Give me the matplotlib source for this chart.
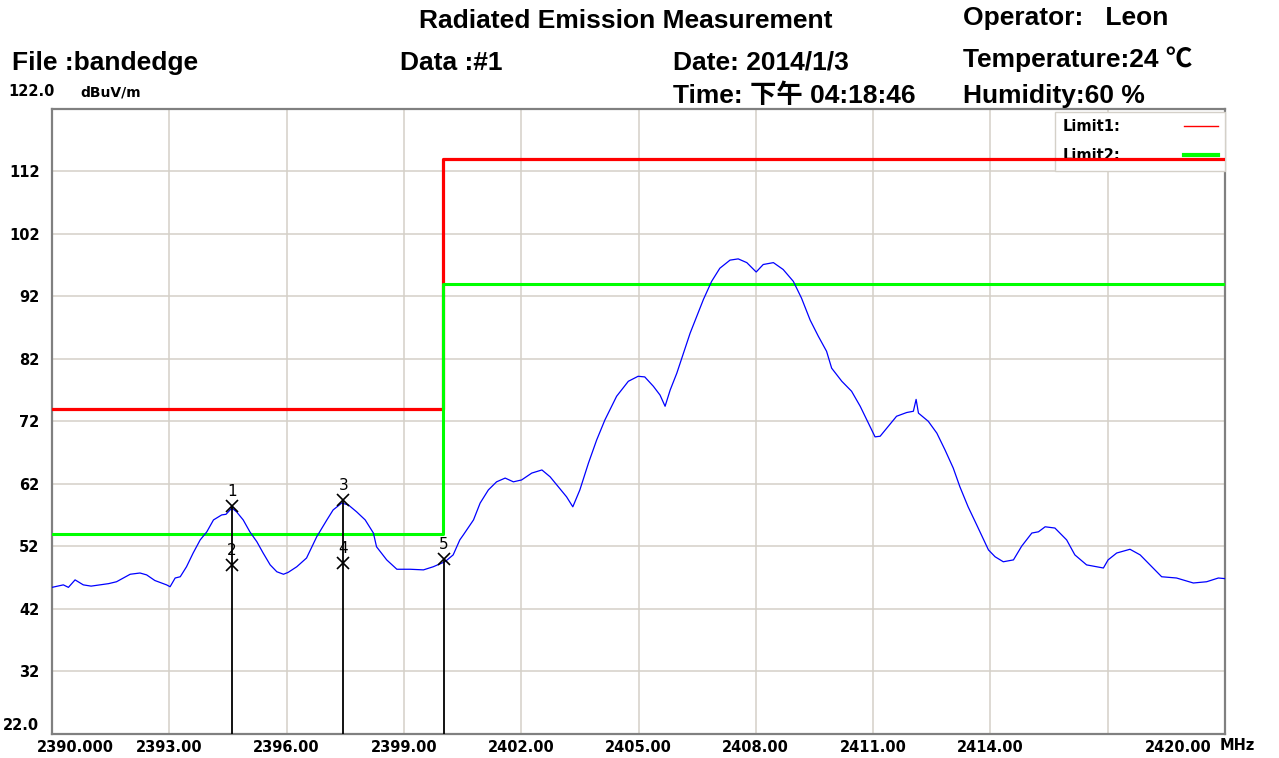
import matplotlib
matplotlib.use('Agg')
import matplotlib.pyplot as plt
import matplotlib.transforms as mtransforms

# trace (MHz, dBuV/m)
freq = [2390.00, 2390.29, 2390.42, 2390.59, 2390.80, 2391.00, 2391.23, 2391.45, 2391.65, 2392.00,
        2392.25, 2392.42, 2392.63, 2392.93, 2393.02, 2393.15, 2393.28, 2393.44, 2393.61, 2393.79,
        2393.96, 2394.13, 2394.34, 2394.45, 2394.60, 2394.72, 2394.89, 2395.06, 2395.24, 2395.40,
        2395.58, 2395.75, 2395.92, 2396.04, 2396.26, 2396.51, 2396.77, 2397.03, 2397.19, 2397.41,
        2397.58, 2397.79, 2398.01, 2398.22, 2398.30, 2398.56, 2398.82, 2399.16, 2399.50, 2399.75,
        2400.05, 2400.26, 2400.43, 2400.52, 2400.78, 2400.95, 2401.16, 2401.37, 2401.59, 2401.80,
        2402.01, 2402.27, 2402.53, 2402.74, 2402.95, 2403.16, 2403.32, 2403.50, 2403.72, 2403.93,
        2404.14, 2404.44, 2404.74, 2404.99, 2405.16, 2405.38, 2405.55, 2405.68, 2405.81, 2405.98,
        2406.15, 2406.32, 2406.49, 2406.66, 2406.87, 2407.08, 2407.34, 2407.55, 2407.77, 2408.01,
        2408.19, 2408.45, 2408.70, 2408.96, 2409.17, 2409.39, 2409.60, 2409.81, 2409.94, 2410.20,
        2410.45, 2410.67, 2410.88, 2411.05, 2411.18, 2411.35, 2411.60, 2411.86, 2412.03, 2412.10,
        2412.16, 2412.41, 2412.63, 2412.84, 2413.05, 2413.22, 2413.43, 2413.65, 2413.95, 2414.12,
        2414.33, 2414.59, 2414.80, 2415.06, 2415.23, 2415.40, 2415.65, 2415.95, 2416.16, 2416.46,
        2416.89, 2417.01, 2417.23, 2417.57, 2417.83, 2418.08, 2418.38, 2418.76, 2419.19, 2419.53,
        2419.83, 2420.00]
level = [45.4, 45.8, 45.4, 46.6, 45.8, 45.6, 45.8, 46.0, 46.3, 47.5,
         47.7, 47.4, 46.5, 45.8, 45.5, 46.9, 47.1, 48.7, 50.9, 53.0,
         54.3, 56.2, 57.0, 57.1, 58.1, 57.5, 56.2, 54.3, 52.7, 50.9,
         49.0, 47.9, 47.5, 47.8, 48.7, 50.1, 53.5, 56.2, 57.8, 58.9,
         58.6, 57.5, 56.2, 54.1, 51.9, 49.8, 48.3, 48.3, 48.2, 48.7,
         49.5, 50.6, 53.0, 53.8, 56.2, 58.9, 61.0, 62.3, 62.9, 62.3,
         62.6, 63.7, 64.2, 63.1, 61.5, 59.9, 58.3, 61.0, 65.3, 69.0,
         72.2, 76.0, 78.4, 79.2, 79.1, 77.6, 76.2, 74.4, 77.0, 79.7,
         82.9, 86.1, 88.8, 91.5, 94.4, 96.5, 97.8, 98.0, 97.4, 95.9,
         97.1, 97.4, 96.3, 94.4, 91.7, 88.2, 85.6, 83.2, 80.5, 78.4,
         76.8, 74.4, 71.7, 69.5, 69.6, 70.9, 72.8, 73.4, 73.6, 75.5,
         73.3, 72.0, 70.1, 67.4, 64.5, 61.5, 58.3, 55.4, 51.4, 50.3,
         49.5, 49.8, 52.0, 54.1, 54.3, 55.1, 54.9, 53.0, 50.6, 49.0,
         48.5, 49.8, 50.9, 51.5, 50.6, 49.0, 47.1, 46.9, 46.1, 46.3,
         46.9, 46.8]

limit1_f = [2390, 2400, 2400, 2420]
limit1_v = [74, 74, 114, 114]
limit2_f = [2390, 2400, 2400, 2420]
limit2_v = [54, 54, 94, 94]

mark_no = ['1', '2', '3', '4', '5']
mark_f = [2394.60, 2394.60, 2397.45, 2397.45, 2400.03]
mark_v = [58.5, 49.0, 59.4, 49.3, 49.9]

y_ticks = [32, 42, 52, 62, 72, 82, 92, 102, 112]
x_ticks = [2390, 2393, 2396, 2399, 2402, 2405, 2408, 2411, 2414, 2417, 2420]
x_labels = ['2390.000', '2393.00', '2396.00', '2399.00', '2402.00', '2405.00',
            '2408.00', '2411.00', '2414.00', '', '2420.00']

head_font = ['Liberation Sans', 'Noto Sans CJK SC', 'DejaVu Sans']
W, H = 1279, 758

fig = plt.figure(figsize=(12.79, 7.58), dpi=100)
ax = fig.add_axes([52 / W, 1 - 733.5 / H, 1173 / W, 624.5 / H])

ax.plot(freq, level, color='#0000ff', lw=0.9, zorder=4)
ax.plot(limit1_f, limit1_v, color='#ff0000', lw=2.3, zorder=3, label='Limit1:')
ax.plot(limit2_f, limit2_v, color='#00ff00', lw=2.2, zorder=3.5, label='Limit2:')

# markers: vertical drop lines, x symbols and numbers
for f in sorted(set(mark_f)):
    top = max(v for mf, v in zip(mark_f, mark_v) if mf == f)
    ax.vlines(f, 22, top, color='black', lw=1.3, zorder=5)
ax.plot(mark_f, mark_v, 'x', color='black', ms=8, mew=1.2, zorder=6)
for n, f, v in zip(mark_no, mark_f, mark_v):
    ax.annotate(n, (f, v), xytext=(0, 5), textcoords='offset points',
                ha='center', va='bottom', fontsize=11, family='DejaVu Sans', zorder=6)

ax.set_xlim(2390, 2420)
ax.set_ylim(22, 122)
ax.set_yticks(y_ticks)
ax.set_yticklabels([str(t) for t in y_ticks])
ax.set_xticks(x_ticks)
ax.set_xticklabels(x_labels)
ax.tick_params(length=0, labelsize=10.5)
ax.tick_params(axis='y', pad=9)
ax.tick_params(axis='x', pad=5)
for lab in ax.get_xticklabels() + ax.get_yticklabels():
    lab.set_fontweight('bold')
    lab.set_family('DejaVu Sans')
xl = ax.get_xticklabels()
xl[0].set_transform(xl[0].get_transform() + mtransforms.ScaledTranslation(0.23, 0, fig.dpi_scale_trans))
xl[-1].set_transform(xl[-1].get_transform() + mtransforms.ScaledTranslation(-0.47, 0, fig.dpi_scale_trans))
ax.text(-0.011, 22, '22.0', transform=ax.get_yaxis_transform(), ha='right', va='bottom',
        fontsize=10.5, fontweight='bold', family='DejaVu Sans')

ax.grid(True, color='#d4d0c8', lw=1.1)
ax.set_axisbelow(True)
for sp in ax.spines.values():
    sp.set_color('#808080')
    sp.set_linewidth(1.6)

leg = ax.legend(loc='upper right', bbox_to_anchor=(1.0, 0.995), borderaxespad=0,
                markerfirst=False, handlelength=2.3, handletextpad=4.4,
                labelspacing=0.95, borderpad=0.5,
                fancybox=False, edgecolor='#d4d0c8', framealpha=1,
                prop={'family': 'DejaVu Sans', 'weight': 'bold', 'size': 10.5})
leg.get_frame().set_linewidth(1.0)
leg.set_zorder(2.6)
leg.get_lines()[0].set_linewidth(1.0)
leg.get_lines()[1].set_linewidth(3.0)

# header block
def head(x, y, s, ha='left'):
    fig.text(x / W, 1 - y / H, s, ha=ha, va='baseline', fontsize=19,
             fontweight='bold', family=head_font)

head(626, 28, 'Radiated Emission Measurement', ha='center')
head(963, 25, 'Operator:   Leon')
head(12, 70, 'File :bandedge')
head(400, 70, 'Data :#1')
head(673, 70, 'Date: 2014/1/3')
head(963, 67, 'Temperature:24 ℃')
head(673, 103, 'Time: 下午 04:18:46')
head(963, 103, 'Humidity:60 %')
fig.text(8 / W, 1 - 96 / H, '122.0', fontsize=10.5, fontweight='bold', family='DejaVu Sans', va='baseline')
fig.text(80 / W, 1 - 96 / H, 'dBuV/m', fontsize=10, fontweight='bold', family='DejaVu Sans', va='baseline')
fig.text(1220 / W, 1 - 746 / H, 'MHz', fontsize=10.5, fontweight='bold', family='DejaVu Sans', va='center')

fig.savefig('out.png', dpi=100)
